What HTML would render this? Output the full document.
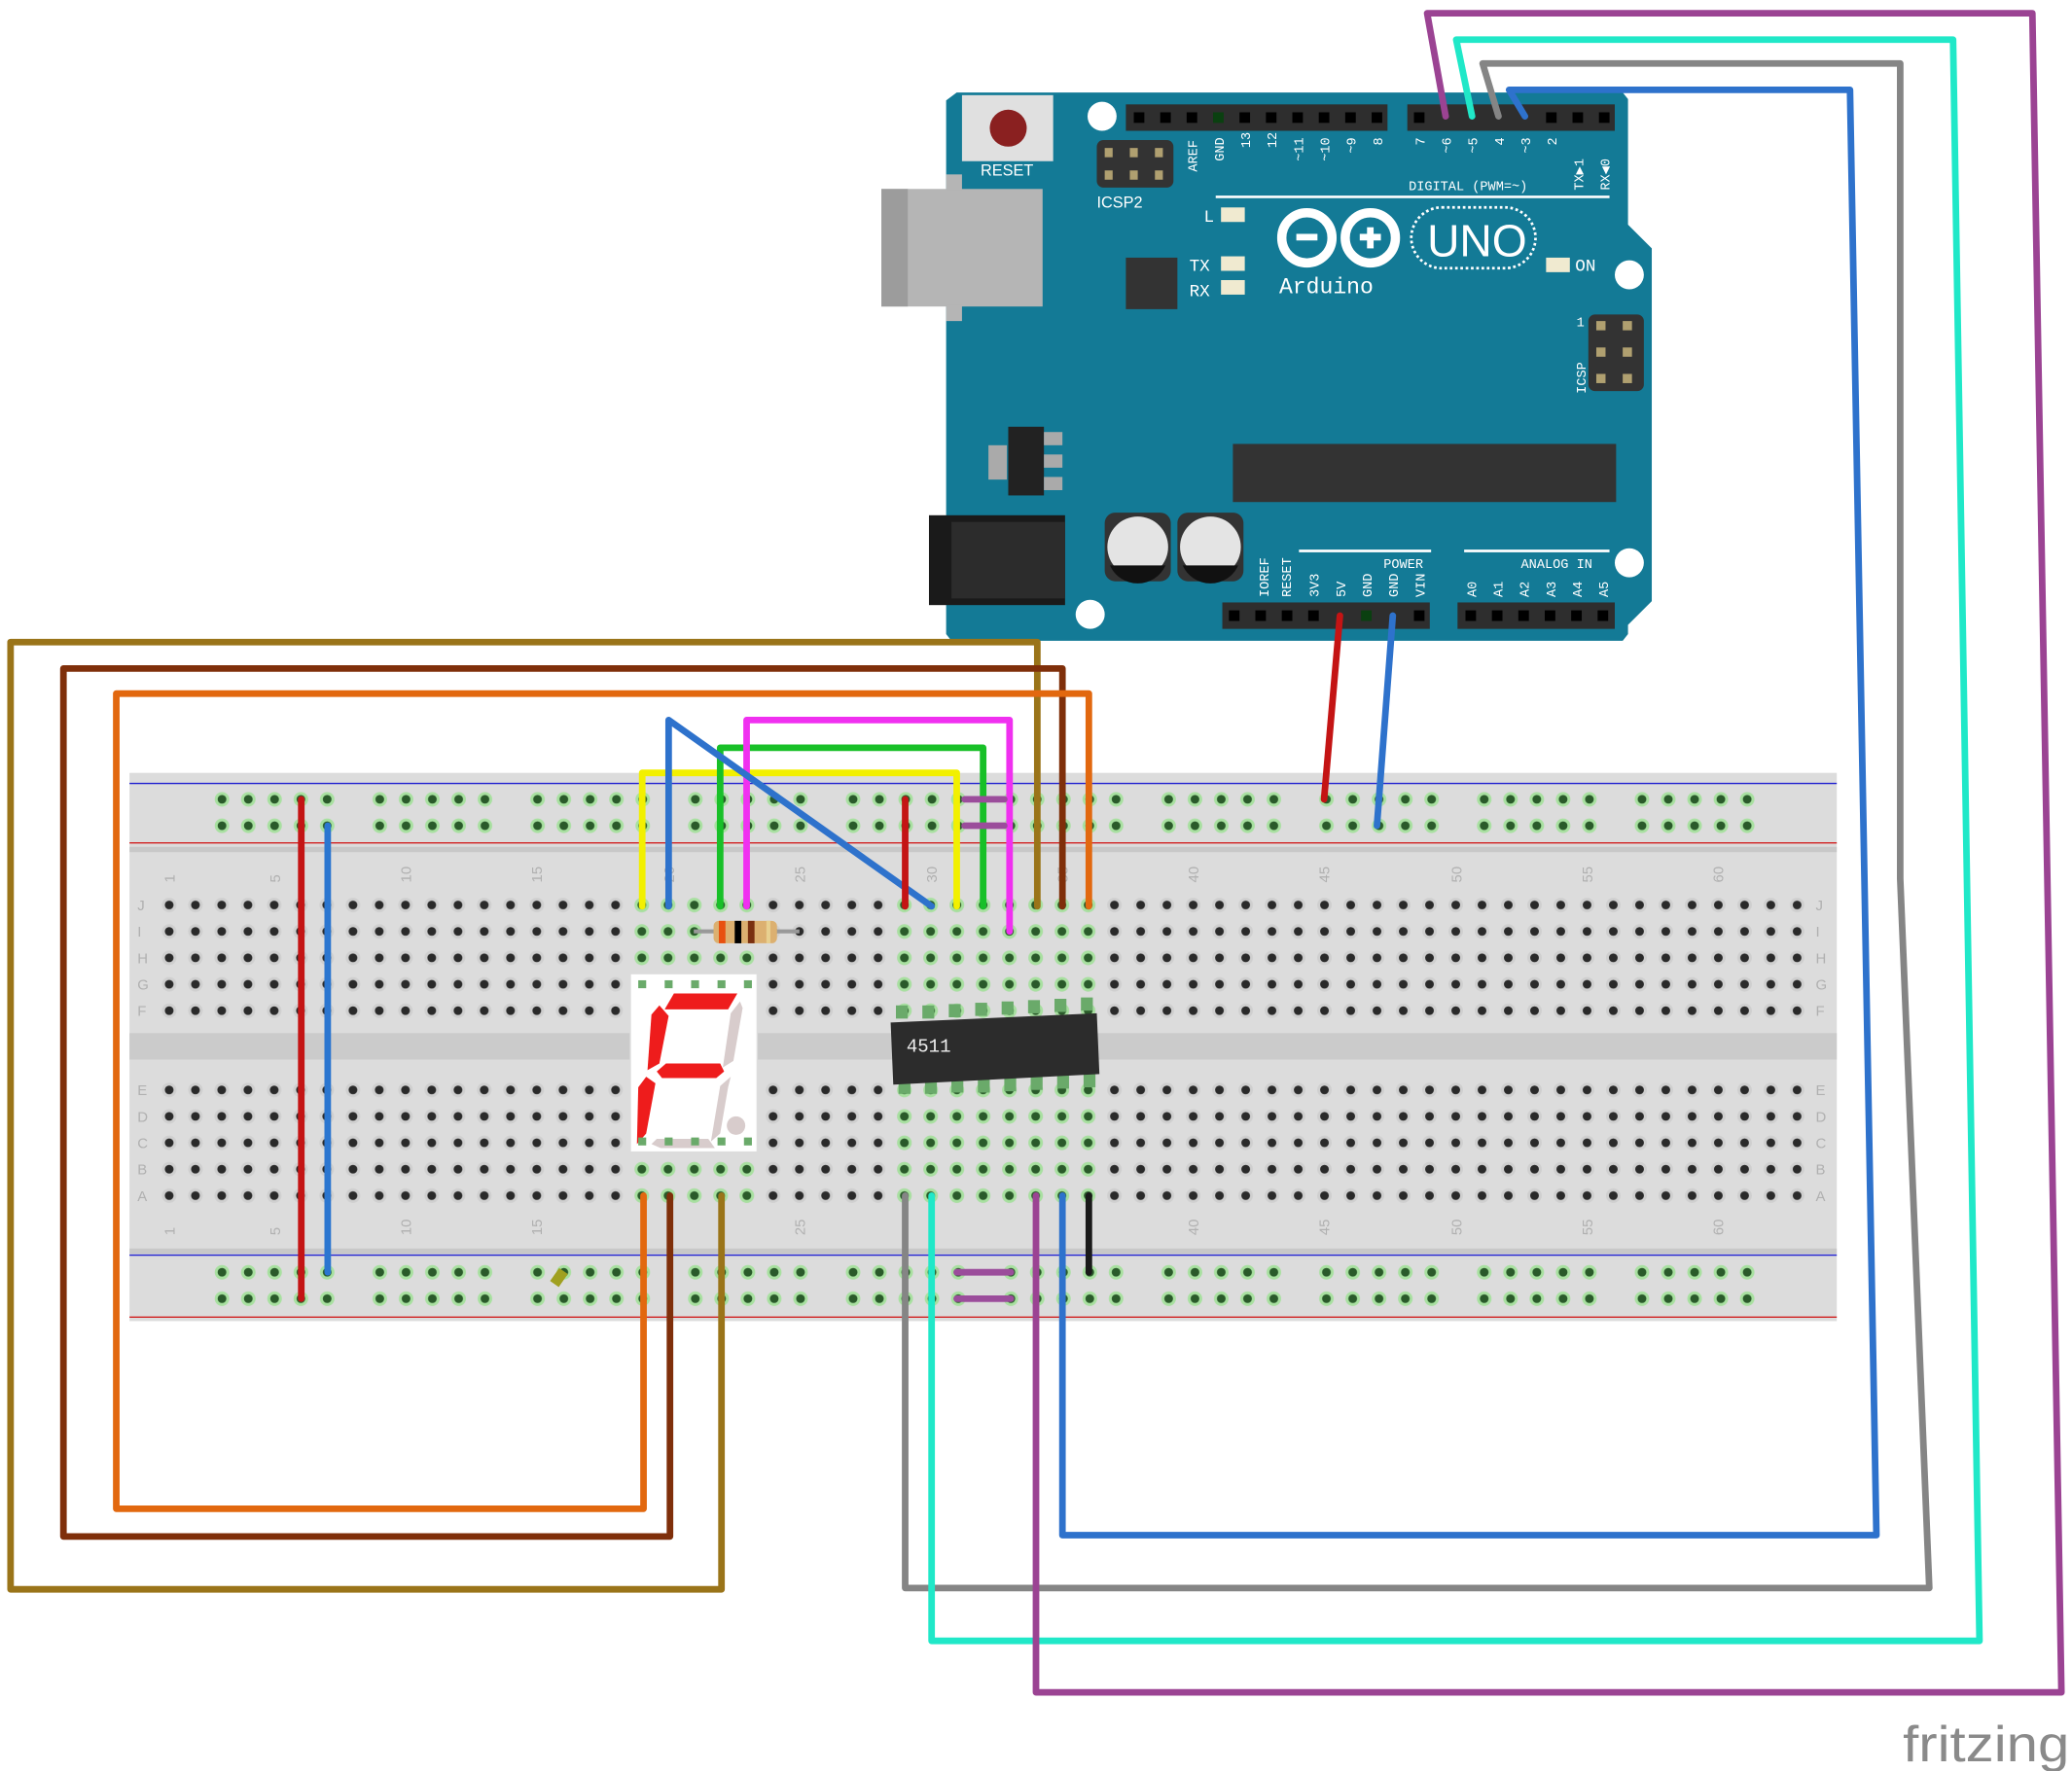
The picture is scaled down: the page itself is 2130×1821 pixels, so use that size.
<!DOCTYPE html>
<html><head><meta charset="utf-8"><style>html,body{margin:0;padding:0;background:#fff}svg{display:block}</style></head>
<body>
<svg width="2130" height="1821" viewBox="0 0 1568 1340.5" xmlns="http://www.w3.org/2000/svg" font-family="Liberation Mono, monospace">
<defs>
<pattern id="h" x="118.1" y="675" width="19.87" height="20" patternUnits="userSpaceOnUse">
<circle cx="9.93" cy="10" r="5.5" fill="#cfcfcf"/><circle cx="9.93" cy="10" r="3.3" fill="#2a2a2a"/></pattern>
<pattern id="hg" x="118.1" y="675" width="19.87" height="20" patternUnits="userSpaceOnUse">
<circle cx="9.93" cy="10" r="5.5" fill="#a8e0a0"/><circle cx="9.93" cy="10" r="3.3" fill="#2a5a2a"/></pattern>
<pattern id="r" x="158" y="595" width="19.9" height="20" patternUnits="userSpaceOnUse">
<circle cx="10" cy="10" r="5.5" fill="#a8e0a0"/><circle cx="10" cy="10" r="3.3" fill="#2a5a2a"/></pattern>
<pattern id="r2" x="158" y="953" width="19.9" height="20" patternUnits="userSpaceOnUse">
<circle cx="10" cy="10" r="5.5" fill="#a8e0a0"/><circle cx="10" cy="10" r="3.3" fill="#2a5a2a"/></pattern>
</defs>

<!-- Breadboard -->
<rect x="98" y="585" width="1292" height="415" fill="#dcdcdc"/>
<rect x="98" y="641" width="1292" height="4" fill="#c8c8c8"/>
<rect x="98" y="945" width="1292" height="4" fill="#c8c8c8"/>
<rect x="98" y="782" width="1292" height="20" fill="#cbcbcb"/>
<line x1="98" y1="593" x2="1390" y2="593" stroke="#2020d0" stroke-width="1"/>
<line x1="98" y1="638" x2="1390" y2="638" stroke="#d02020" stroke-width="1"/>
<line x1="98" y1="950" x2="1390" y2="950" stroke="#2020d0" stroke-width="1"/>
<line x1="98" y1="997" x2="1390" y2="997" stroke="#d02020" stroke-width="1"/>
<rect x="118" y="675" width="1252" height="100" fill="url(#h)"/>
<rect x="118" y="815" width="1252" height="100" fill="url(#h)"/>
<rect x="475" y="675" width="100" height="100" fill="url(#hg)"/>
<rect x="475" y="815" width="100" height="100" fill="url(#hg)"/>
<rect x="674" y="675" width="160" height="100" fill="url(#hg)"/>
<rect x="674" y="815" width="160" height="100" fill="url(#hg)"/>
<g>
<rect x="158" y="595" width="100" height="40" fill="url(#r)"/><rect x="277" y="595" width="100" height="40" fill="url(#r)"/>
<rect x="396" y="595" width="100" height="40" fill="url(#r)"/><rect x="516" y="595" width="100" height="40" fill="url(#r)"/>
<rect x="635" y="595" width="100" height="40" fill="url(#r)"/><rect x="754" y="595" width="100" height="40" fill="url(#r)"/>
<rect x="872" y="595" width="100" height="40" fill="url(#r)"/><rect x="992" y="595" width="100" height="40" fill="url(#r)"/>
<rect x="1111" y="595" width="100" height="40" fill="url(#r)"/><rect x="1230" y="595" width="100" height="40" fill="url(#r)"/>
<rect x="158" y="953" width="100" height="40" fill="url(#r2)"/><rect x="277" y="953" width="100" height="40" fill="url(#r2)"/>
<rect x="396" y="953" width="100" height="40" fill="url(#r2)"/><rect x="516" y="953" width="100" height="40" fill="url(#r2)"/>
<rect x="635" y="953" width="100" height="40" fill="url(#r2)"/><rect x="754" y="953" width="100" height="40" fill="url(#r2)"/>
<rect x="872" y="953" width="100" height="40" fill="url(#r2)"/><rect x="992" y="953" width="100" height="40" fill="url(#r2)"/>
<rect x="1111" y="953" width="100" height="40" fill="url(#r2)"/><rect x="1230" y="953" width="100" height="40" fill="url(#r2)"/>
</g>
<g font-size="11" fill="#b0b0b0" font-family="Liberation Sans, sans-serif">
<text transform="translate(132,668) rotate(-90)">1</text><text transform="translate(212,668) rotate(-90)">5</text>
<text transform="translate(311,668) rotate(-90)">10</text><text transform="translate(410,668) rotate(-90)">15</text>
<text transform="translate(510,668) rotate(-90)">20</text><text transform="translate(609,668) rotate(-90)">25</text>
<text transform="translate(709,668) rotate(-90)">30</text><text transform="translate(808,668) rotate(-90)">35</text>
<text transform="translate(907,668) rotate(-90)">40</text><text transform="translate(1006,668) rotate(-90)">45</text>
<text transform="translate(1106,668) rotate(-90)">50</text><text transform="translate(1205,668) rotate(-90)">55</text>
<text transform="translate(1304,668) rotate(-90)">60</text>
<text transform="translate(132,935) rotate(-90)">1</text><text transform="translate(212,935) rotate(-90)">5</text>
<text transform="translate(311,935) rotate(-90)">10</text><text transform="translate(410,935) rotate(-90)">15</text>
<text transform="translate(609,935) rotate(-90)">25</text><text transform="translate(907,935) rotate(-90)">40</text>
<text transform="translate(1006,935) rotate(-90)">45</text><text transform="translate(1106,935) rotate(-90)">50</text>
<text transform="translate(1205,935) rotate(-90)">55</text><text transform="translate(1304,935) rotate(-90)">60</text>
<text x="104" y="689">J</text><text x="104" y="709">I</text><text x="104" y="729">H</text><text x="104" y="749">G</text><text x="104" y="769">F</text>
<text x="104" y="829">E</text><text x="104" y="849">D</text><text x="104" y="869">C</text><text x="104" y="889">B</text><text x="104" y="909">A</text>
<text x="1374" y="689">J</text><text x="1374" y="709">I</text><text x="1374" y="729">H</text><text x="1374" y="749">G</text><text x="1374" y="769">F</text>
<text x="1374" y="829">E</text><text x="1374" y="849">D</text><text x="1374" y="869">C</text><text x="1374" y="889">B</text><text x="1374" y="909">A</text>
</g>

<!-- Arduino -->
<path d="M724,70 L1228,70 L1232,75 L1232,170 L1250,188 L1250,455 L1232,473 L1232,480 L1228,485 L720,485 L716,480 L716,76 Z" fill="#137a96"/>
<rect x="667" y="143" width="122" height="89" fill="#b5b5b5"/><rect x="667" y="143" width="20" height="89" fill="#9c9c9c"/>
<rect x="716" y="132" width="12" height="12" fill="#b5b5b5"/><rect x="716" y="231" width="12" height="12" fill="#b5b5b5"/>
<rect x="728" y="72" width="69" height="50" fill="#e0e0e0"/><circle cx="763" cy="97" r="14" fill="#8a2020"/>
<text x="742" y="133" font-size="12" fill="#fff" font-family="Liberation Sans Narrow, Liberation Sans, sans-serif">RESET</text>
<circle cx="834" cy="88" r="11" fill="#fff"/><circle cx="1233" cy="208" r="11" fill="#fff"/>
<circle cx="1233" cy="426" r="11" fill="#fff"/><circle cx="825" cy="465" r="11" fill="#fff"/>
<rect x="852" y="79" width="198" height="20" fill="#2e2e2e"/><rect x="1065" y="79" width="157" height="20" fill="#2e2e2e"/>
<rect x="925" y="456" width="157" height="20" fill="#2e2e2e"/><rect x="1103" y="456" width="119" height="20" fill="#2e2e2e"/>
<g fill="#000">
<rect x="858" y="85" width="8" height="8"/><rect x="878" y="85" width="8" height="8"/><rect x="898" y="85" width="8" height="8"/><rect x="918" y="85" width="8" height="8" fill="#0a4010"/><rect x="938" y="85" width="8" height="8"/><rect x="958" y="85" width="8" height="8"/><rect x="978" y="85" width="8" height="8"/><rect x="998" y="85" width="8" height="8"/><rect x="1018" y="85" width="8" height="8"/><rect x="1038" y="85" width="8" height="8"/>
<rect x="1070" y="85" width="8" height="8"/><rect x="1170" y="85" width="8" height="8"/><rect x="1190" y="85" width="8" height="8"/><rect x="1210" y="85" width="8" height="8"/>
<rect x="930" y="462" width="8" height="8"/><rect x="950" y="462" width="8" height="8"/><rect x="970" y="462" width="8" height="8"/><rect x="990" y="462" width="8" height="8"/><rect x="1030" y="462" width="8" height="8" fill="#0a4010"/><rect x="1070" y="462" width="8" height="8"/>
<rect x="1109" y="462" width="8" height="8"/><rect x="1129" y="462" width="8" height="8"/><rect x="1149" y="462" width="8" height="8"/><rect x="1169" y="462" width="8" height="8"/><rect x="1189" y="462" width="8" height="8"/><rect x="1209" y="462" width="8" height="8"/>
</g>
<rect x="830" y="106" width="58" height="36" rx="5" fill="#333"/>
<text x="830" y="157" font-size="12" fill="#fff" font-family="Liberation Sans Narrow, Liberation Sans, sans-serif">ICSP2</text>
<g font-size="10" fill="#fff">
<text transform="translate(906,130) rotate(-90)">AREF</text><text transform="translate(926,122) rotate(-90)">GND</text>
<text transform="translate(946,112) rotate(-90)">13</text><text transform="translate(966,112) rotate(-90)">12</text>
<text transform="translate(986,122) rotate(-90)">~11</text><text transform="translate(1006,122) rotate(-90)">~10</text>
<text transform="translate(1026,116) rotate(-90)">~9</text><text transform="translate(1046,110) rotate(-90)">8</text>
<text transform="translate(1078,110) rotate(-90)">7</text><text transform="translate(1098,116) rotate(-90)">~6</text>
<text transform="translate(1118,116) rotate(-90)">~5</text><text transform="translate(1138,110) rotate(-90)">4</text>
<text transform="translate(1158,116) rotate(-90)">~3</text><text transform="translate(1178,110) rotate(-90)">2</text>
<text transform="translate(1198,144) rotate(-90)">TX▶1</text><text transform="translate(1218,144) rotate(-90)">RX◀0</text>
<text x="1066" y="144">DIGITAL (PWM=~)</text>
<text transform="translate(960,452) rotate(-90)">IOREF</text><text transform="translate(977,452) rotate(-90)">RESET</text>
<text transform="translate(998,452) rotate(-90)">3V3</text><text transform="translate(1018,452) rotate(-90)">5V</text>
<text transform="translate(1038,452) rotate(-90)">GND</text><text transform="translate(1058,452) rotate(-90)">GND</text>
<text transform="translate(1078,452) rotate(-90)">VIN</text>
<text x="1047" y="430">POWER</text><text x="1151" y="430">ANALOG IN</text>
<text transform="translate(1117,452) rotate(-90)">A0</text><text transform="translate(1137,452) rotate(-90)">A1</text>
<text transform="translate(1157,452) rotate(-90)">A2</text><text transform="translate(1177,452) rotate(-90)">A3</text>
<text transform="translate(1197,452) rotate(-90)">A4</text><text transform="translate(1217,452) rotate(-90)">A5</text>
<text transform="translate(1200,298) rotate(-90)">ICSP</text><text x="1193" y="247">1</text>
</g>
<line x1="920" y1="149" x2="1218" y2="149" stroke="#fff" stroke-width="2"/>
<line x1="983" y1="417" x2="1083" y2="417" stroke="#fff" stroke-width="2"/>
<line x1="1108" y1="417" x2="1218" y2="417" stroke="#fff" stroke-width="2"/>
<text x="911" y="168" font-size="13" fill="#fff">L</text><rect x="924" y="157" width="18" height="11" fill="#f0ead0"/>
<text x="900" y="205" font-size="13" fill="#fff">TX</text><rect x="924" y="194" width="18" height="11" fill="#f0ead0"/>
<text x="900" y="224" font-size="13" fill="#fff">RX</text><rect x="924" y="212" width="18" height="11" fill="#f0ead0"/>
<rect x="1170" y="195" width="18" height="11" fill="#f0ead0"/><text x="1192" y="205" font-size="13" fill="#fff">ON</text>
<rect x="852" y="195" width="39" height="39" fill="#333"/>
<circle cx="989" cy="180" r="19" fill="none" stroke="#fff" stroke-width="7"/><circle cx="1037" cy="180" r="19" fill="none" stroke="#fff" stroke-width="7"/>
<rect x="981" y="177" width="16" height="5" fill="#fff"/><rect x="1029" y="177" width="16" height="5" fill="#fff"/><rect x="1034.5" y="172" width="5" height="16" fill="#fff"/>
<rect x="1068" y="157" width="94" height="46" rx="23" fill="none" stroke="#fff" stroke-width="2" stroke-dasharray="2 2"/>
<text x="1080" y="194" font-size="34" fill="#fff" font-family="Liberation Sans, sans-serif">UNO</text>
<text x="968" y="222" font-size="17" fill="#fff">Arduino</text>
<rect x="1202" y="238" width="42" height="58" rx="5" fill="#333"/>
<g fill="#b0a070"><rect x="1208" y="243" width="7" height="7"/><rect x="1228" y="243" width="7" height="7"/><rect x="1208" y="263" width="7" height="7"/><rect x="1228" y="263" width="7" height="7"/><rect x="1208" y="283" width="7" height="7"/><rect x="1228" y="283" width="7" height="7"/>
<rect x="836" y="112" width="6" height="7"/><rect x="855" y="112" width="6" height="7"/><rect x="874" y="112" width="6" height="7"/><rect x="836" y="129" width="6" height="7"/><rect x="855" y="129" width="6" height="7"/><rect x="874" y="129" width="6" height="7"/></g>
<rect x="933" y="336" width="290" height="44" fill="#333"/>
<rect x="748" y="337" width="14" height="26" fill="#aaa"/><rect x="763" y="323" width="27" height="52" fill="#222"/>
<rect x="790" y="327" width="14" height="10" fill="#aaa"/><rect x="790" y="344" width="14" height="10" fill="#aaa"/><rect x="790" y="361" width="14" height="10" fill="#aaa"/>
<rect x="703" y="390" width="103" height="68" fill="#1a1a1a"/><rect x="720" y="395" width="86" height="58" fill="#2c2c2c"/>
<rect x="836" y="388" width="50" height="52" rx="8" fill="#333"/><circle cx="861" cy="414" r="23" fill="#e4e4e4"/><path d="M840,428 L882,428 A23,23 0 0 1 840,428Z" fill="#111"/>
<rect x="891" y="388" width="50" height="52" rx="8" fill="#333"/><circle cx="916" cy="414" r="23" fill="#e4e4e4"/><path d="M895,428 L937,428 A23,23 0 0 1 895,428Z" fill="#111"/>

<!-- Components -->
<line x1="525" y1="705" x2="605" y2="705" stroke="#999" stroke-width="3"/>
<rect x="540" y="697" width="48" height="17" rx="4" fill="#dcb070"/>
<rect x="544" y="697" width="5" height="17" fill="#e85010"/><rect x="556" y="697" width="5" height="17" fill="#000"/><rect x="566" y="697" width="5" height="17" fill="#7a3010"/><rect x="580" y="697" width="3" height="17" fill="#e8d090"/>
<rect x="477" y="737" width="96" height="135" fill="#fff" stroke="#ddd"/>
<g fill="#ee1c1c"><polygon points="510,752 558,752 551,764 503,764"/><polygon points="499,761 506,769 499,805 490,810 493,768"/><polygon points="504,805 545,805 548,811 542,816 501,816 497,811"/><polygon points="489,815 496,820 489,858 482,866 483,823"/></g>
<g fill="#d8cccc"><polygon points="560,758 562,763 555,803 547,808 553,767"/><polygon points="553,815 551,823 545,858 538,864 545,822"/><polygon points="497,862 536,862 541,869 500,869 493,866"/><circle cx="557" cy="852" r="7"/></g>
<g fill="#6aaa6a"><rect x="483" y="742" width="6" height="6"/><rect x="503" y="742" width="6" height="6"/><rect x="523" y="742" width="6" height="6"/><rect x="543" y="742" width="6" height="6"/><rect x="563" y="742" width="6" height="6"/>
<rect x="483" y="861" width="6" height="6"/><rect x="503" y="861" width="6" height="6"/><rect x="523" y="861" width="6" height="6"/><rect x="543" y="861" width="6" height="6"/><rect x="563" y="861" width="6" height="6"/></g>
<g fill="#6aaa6a">
<rect x="678" y="761" width="9" height="10"/><rect x="698" y="761" width="9" height="10"/><rect x="718" y="760" width="9" height="10"/><rect x="738" y="759" width="9" height="10"/><rect x="758" y="758" width="9" height="10"/><rect x="778" y="757" width="9" height="10"/><rect x="798" y="756" width="9" height="10"/><rect x="818" y="755" width="9" height="10"/>
<rect x="680" y="816" width="9" height="12"/><rect x="700" y="816" width="9" height="12"/><rect x="720" y="815" width="9" height="12"/><rect x="740" y="815" width="9" height="12"/><rect x="760" y="814" width="9" height="12"/><rect x="780" y="813" width="9" height="12"/><rect x="800" y="812" width="9" height="12"/><rect x="820" y="811" width="9" height="12"/>
</g>
<polygon points="674,774 830,767 832,813 676,821" fill="#2c2c2c"/>
<text x="686" y="796" font-size="14" fill="#eee">4511</text>
<rect x="419" y="961" width="8" height="12" fill="#a0a020" transform="rotate(35 423 967)"/>

<!-- Wires -->
<g fill="none" stroke-width="5" stroke-linejoin="round" stroke-linecap="round">
<polyline points="785,686 785,486 8,486 8,1203 546,1203 546,905" stroke="#9a7419"/>
<polyline points="804,686 804,506 48,506 48,1163 507,1163 507,905" stroke="#7f2f0a"/>
<polyline points="824,686 824,525 88,525 88,1142 487,1142 487,905" stroke="#e2680f"/>
<line x1="228" y1="605" x2="228" y2="983" stroke="#c41414"/>
<line x1="248" y1="625" x2="248" y2="963" stroke="#2b76d0"/>
<polyline points="486,686 486,585 724,585 724,686" stroke="#f2f000"/>
<polyline points="545,686 545,566 744,566 744,686" stroke="#18c028"/>
<polyline points="565,686 565,545 764,545 764,705" stroke="#f030f0"/>
<polyline points="506,686 506,545 705,686" stroke="#2e72cc"/>
<line x1="685" y1="605" x2="685" y2="686" stroke="#c41414"/>
<line x1="730" y1="605" x2="760" y2="605" stroke="#9b4d9b"/>
<line x1="730" y1="625" x2="760" y2="625" stroke="#9b4d9b"/>
<line x1="724" y1="963" x2="765" y2="963" stroke="#9b4d9b"/>
<line x1="724" y1="983" x2="765" y2="983" stroke="#9b4d9b"/>
<line x1="824" y1="905" x2="824" y2="963" stroke="#1a1a1a"/>
<line x1="1014" y1="466" x2="1002" y2="605" stroke="#c41414"/>
<line x1="1054" y1="466" x2="1042" y2="625" stroke="#2e72cc"/>
<polyline points="685,905 685,1202 1460,1202 1438,665 1438,48 1122,48 1134,88" stroke="#858585"/>
<polyline points="705,905 705,1242 1498,1242 1478,30 1102,30 1114,88" stroke="#20e8c8"/>
<polyline points="784,905 784,1281 1560,1281 1538,10 1080,10 1094,88" stroke="#9b4393"/>
<polyline points="804,905 804,1162 1420,1162 1400,68 1142,68 1154,88" stroke="#2e72cc"/>
</g>

<text x="1440" y="1333" font-size="38" fill="#8a8a8a" font-family="Liberation Sans, sans-serif" textLength="126" lengthAdjust="spacingAndGlyphs">fritzing</text>
</svg>
</body></html>
